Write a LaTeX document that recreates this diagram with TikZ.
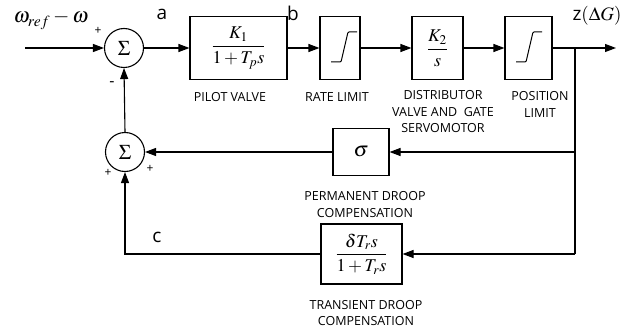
\documentclass[tikz,border=0pt]{standalone}
\usepackage{mathptmx}
\usepackage{fontspec}
\setmainfont{Open Sans}
\usetikzlibrary{arrows.meta}
\begin{document}
\begin{tikzpicture}[x=1pt,y=-1pt,
  line width=1.1pt,
  arr/.style={-{Triangle[length=11pt,width=8pt]}},
  blk/.style={draw, minimum height=63pt, inner sep=0pt, font=\fontsize{18}{20}\selectfont},
  sumnode/.style={draw, circle, minimum size=39pt, inner sep=0pt, font=\fontsize{21}{22}\selectfont},
  lbl/.style={font=\fontsize{12.5}{16.5}\selectfont, align=center},
  sig/.style={font=\fontsize{19}{22}\selectfont},
  pm/.style={font=\fontsize{12}{12}\selectfont},
  sat/.style={line width=1pt, rounded corners=1pt}]
\useasboundingbox (0,0) rectangle (623,334);
% summing junctions
\node[sumnode] (s1) at (124,48) {$\Sigma$};
\node[sumnode] (s2) at (125,152) {$\Sigma$};
% blocks
\node[blk, minimum width=97pt] (pv) at (238.5,48) {$\displaystyle\frac{K_1}{1+T_p s}$};
\node[blk, minimum width=40pt] (rl) at (340,48) {};
\node[blk, minimum width=51pt] (dv) at (437.5,48) {$\displaystyle\frac{K_2}{s}$};
\node[blk, minimum width=47pt] (pl) at (528.5,48) {};
\node[blk, minimum width=56pt, minimum height=47pt, font=\fontsize{21}{24}\selectfont] (sg) at (361,152) {$\sigma$};
\node[blk, minimum width=81pt, minimum height=60pt] (tr) at (361.5,254) {$\displaystyle\frac{\delta T_r s}{1+T_r s}$};
% saturation symbols
\draw[sat] ([shift={(-9,14)}]rl.center) -- ++(10,0) -- ++(7,-30) -- ++(9,0);
\draw[sat] ([shift={(-12.5,14)}]pl.center) -- ++(10,0) -- ++(7,-30) -- ++(9,0);
% coordinates
\coordinate (in) at (25,48);
\coordinate (tap) at (575,48);
\coordinate (out) at (616,48);
\coordinate (bot) at (575,254);
\coordinate (cc) at (125,254);
% connectors
\draw[arr] (in) -- (s1.west);
\draw[arr] (s1.east) -- (pv.west);
\draw[arr] (pv.east) -- (rl.west);
\draw[arr] (rl.east) -- (dv.west);
\draw[arr] (dv.east) -- (pl.west);
\draw[arr] (pl.east) -- (out);
\draw (tap) -- (bot);
\draw[arr] (tap |- sg.east) -- (sg.east);
\draw[arr] (sg.west) -- (s2.east);
\draw[arr] (bot) -- (tr.east);
\draw[arr] (tr.west) -- (cc) -- (s2.south);
\draw[arr] (s2.north) -- (s1.south);
% labels
\node[lbl] (lpv) at (230,97) {PILOT VALVE};
\node[lbl] (lrl) at (337,97) {RATE LIMIT};
\node[lbl] (ldv) at (443,112) {DISTRIBUTOR\\VALVE AND\ \ GATE\\SERVOMOTOR};
\node[lbl] (lpl) at (540,104.5) {POSITION\\LIMIT};
\node[lbl] (lsg) at (365,204.5) {PERMANENT DROOP\\COMPENSATION};
\node[lbl] (ltr) at (366,313) {TRANSIENT DROOP\\COMPENSATION};
\node[sig] (la) at (162,14) {a};
\node[sig] (lb) at (293,13) {b};
\node[sig] (lc) at (157,237) {c};
\node[anchor=base west, inner sep=0pt, font=\fontsize{19}{22}\selectfont] (lz) at (572,21) {z$(\Delta G)$};
\node[font=\fontsize{21}{24}\selectfont] (lw) at (51,20) {$\omega_{ref}-\omega$};
\node[pm] (p1) at (98,31) {+};
\node[pm, font=\fontsize{16}{16}\selectfont] (m1) at (112,84) {-};
\node[pm] (p2) at (108,173) {+};
\node[pm] (p3) at (150,169) {+};
\end{tikzpicture}
\end{document}
